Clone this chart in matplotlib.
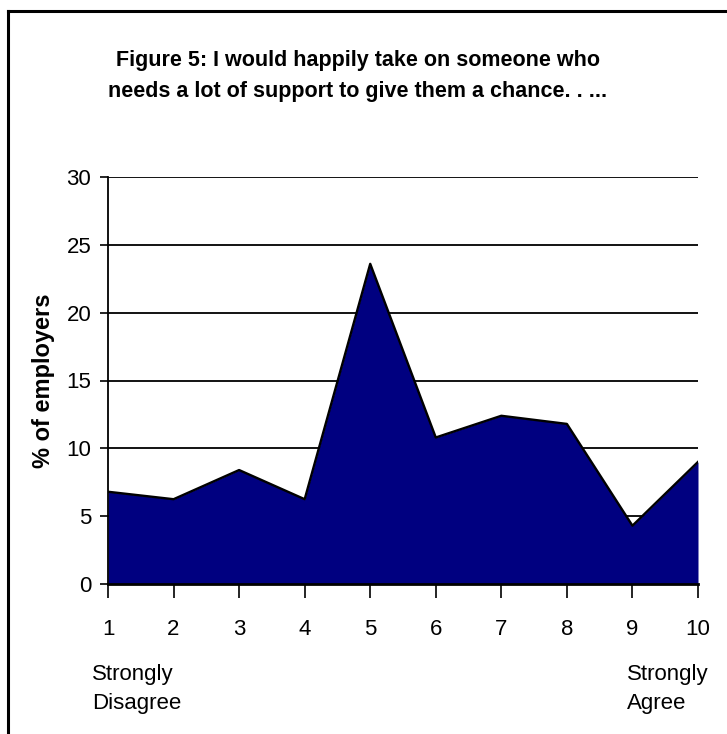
import matplotlib.pyplot as plt
from matplotlib.lines import Line2D

# survey scale and share of employers at each point
scale = [1, 2, 3, 4, 5, 6, 7, 8, 9, 10]
pct_employers = [6.8, 6.25, 8.4, 6.25, 23.6, 10.8, 12.4, 11.8, 4.3, 9.0]
y_ticks = [0, 5, 10, 15, 20, 25, 30]

title = "Figure 5: I would happily take on someone who\nneeds a lot of support to give them a chance. . ..."
plt.rcParams["font.family"] = ["Liberation Sans", "DejaVu Sans"]

fig = plt.figure(figsize=(7.27, 7.34), dpi=100)
ax = fig.add_axes([108 / 727, 150 / 734, 590 / 727, 407 / 734])

for y in y_ticks[1:]:
    ax.axhline(y, color="black", lw=1.3, zorder=1)

ax.fill_between(scale, pct_employers, 0, color="#000080", lw=0, zorder=2)
ax.plot(scale, pct_employers, color="black", lw=1.7, zorder=3)

ax.set_xlim(1, 10)
ax.set_ylim(0, 30)
ax.set_xticks(scale)
ax.set_yticks(y_ticks)
ax.tick_params(axis="x", length=10, width=1.2, pad=15, labelsize=16)
ax.tick_params(axis="y", length=6, width=1.2, pad=6, labelsize=16)

for side in ["top", "right"]:
    ax.spines[side].set_visible(False)
ax.spines["left"].set_linewidth(1.3)
ax.spines["bottom"].set_linewidth(2)

ax.set_ylabel("% of employers", fontsize=17, fontweight="bold", labelpad=8)

fig.text(358 / 727, 1 - 76 / 734, title, ha="center", va="center",
         fontsize=15.5, fontweight="bold", linespacing=1.65)

fig.text(92 / 727, 1 - 689 / 734, "Strongly\nDisagree", ha="left", va="center",
         fontsize=16, linespacing=1.5)
fig.text(627 / 727, 1 - 689 / 734, "Strongly\nAgree", ha="left", va="center",
         fontsize=16, linespacing=1.5)

# frame around the figure (left and top edges)
fig.add_artist(Line2D([8 / 727, 8 / 727], [0, 1 - 11 / 734], color="black", lw=2.2,
                      transform=fig.transFigure))
fig.add_artist(Line2D([8 / 727, 1], [1 - 11 / 734, 1 - 11 / 734], color="black", lw=2.2,
                      transform=fig.transFigure))

fig.savefig("out.png", dpi=100)
